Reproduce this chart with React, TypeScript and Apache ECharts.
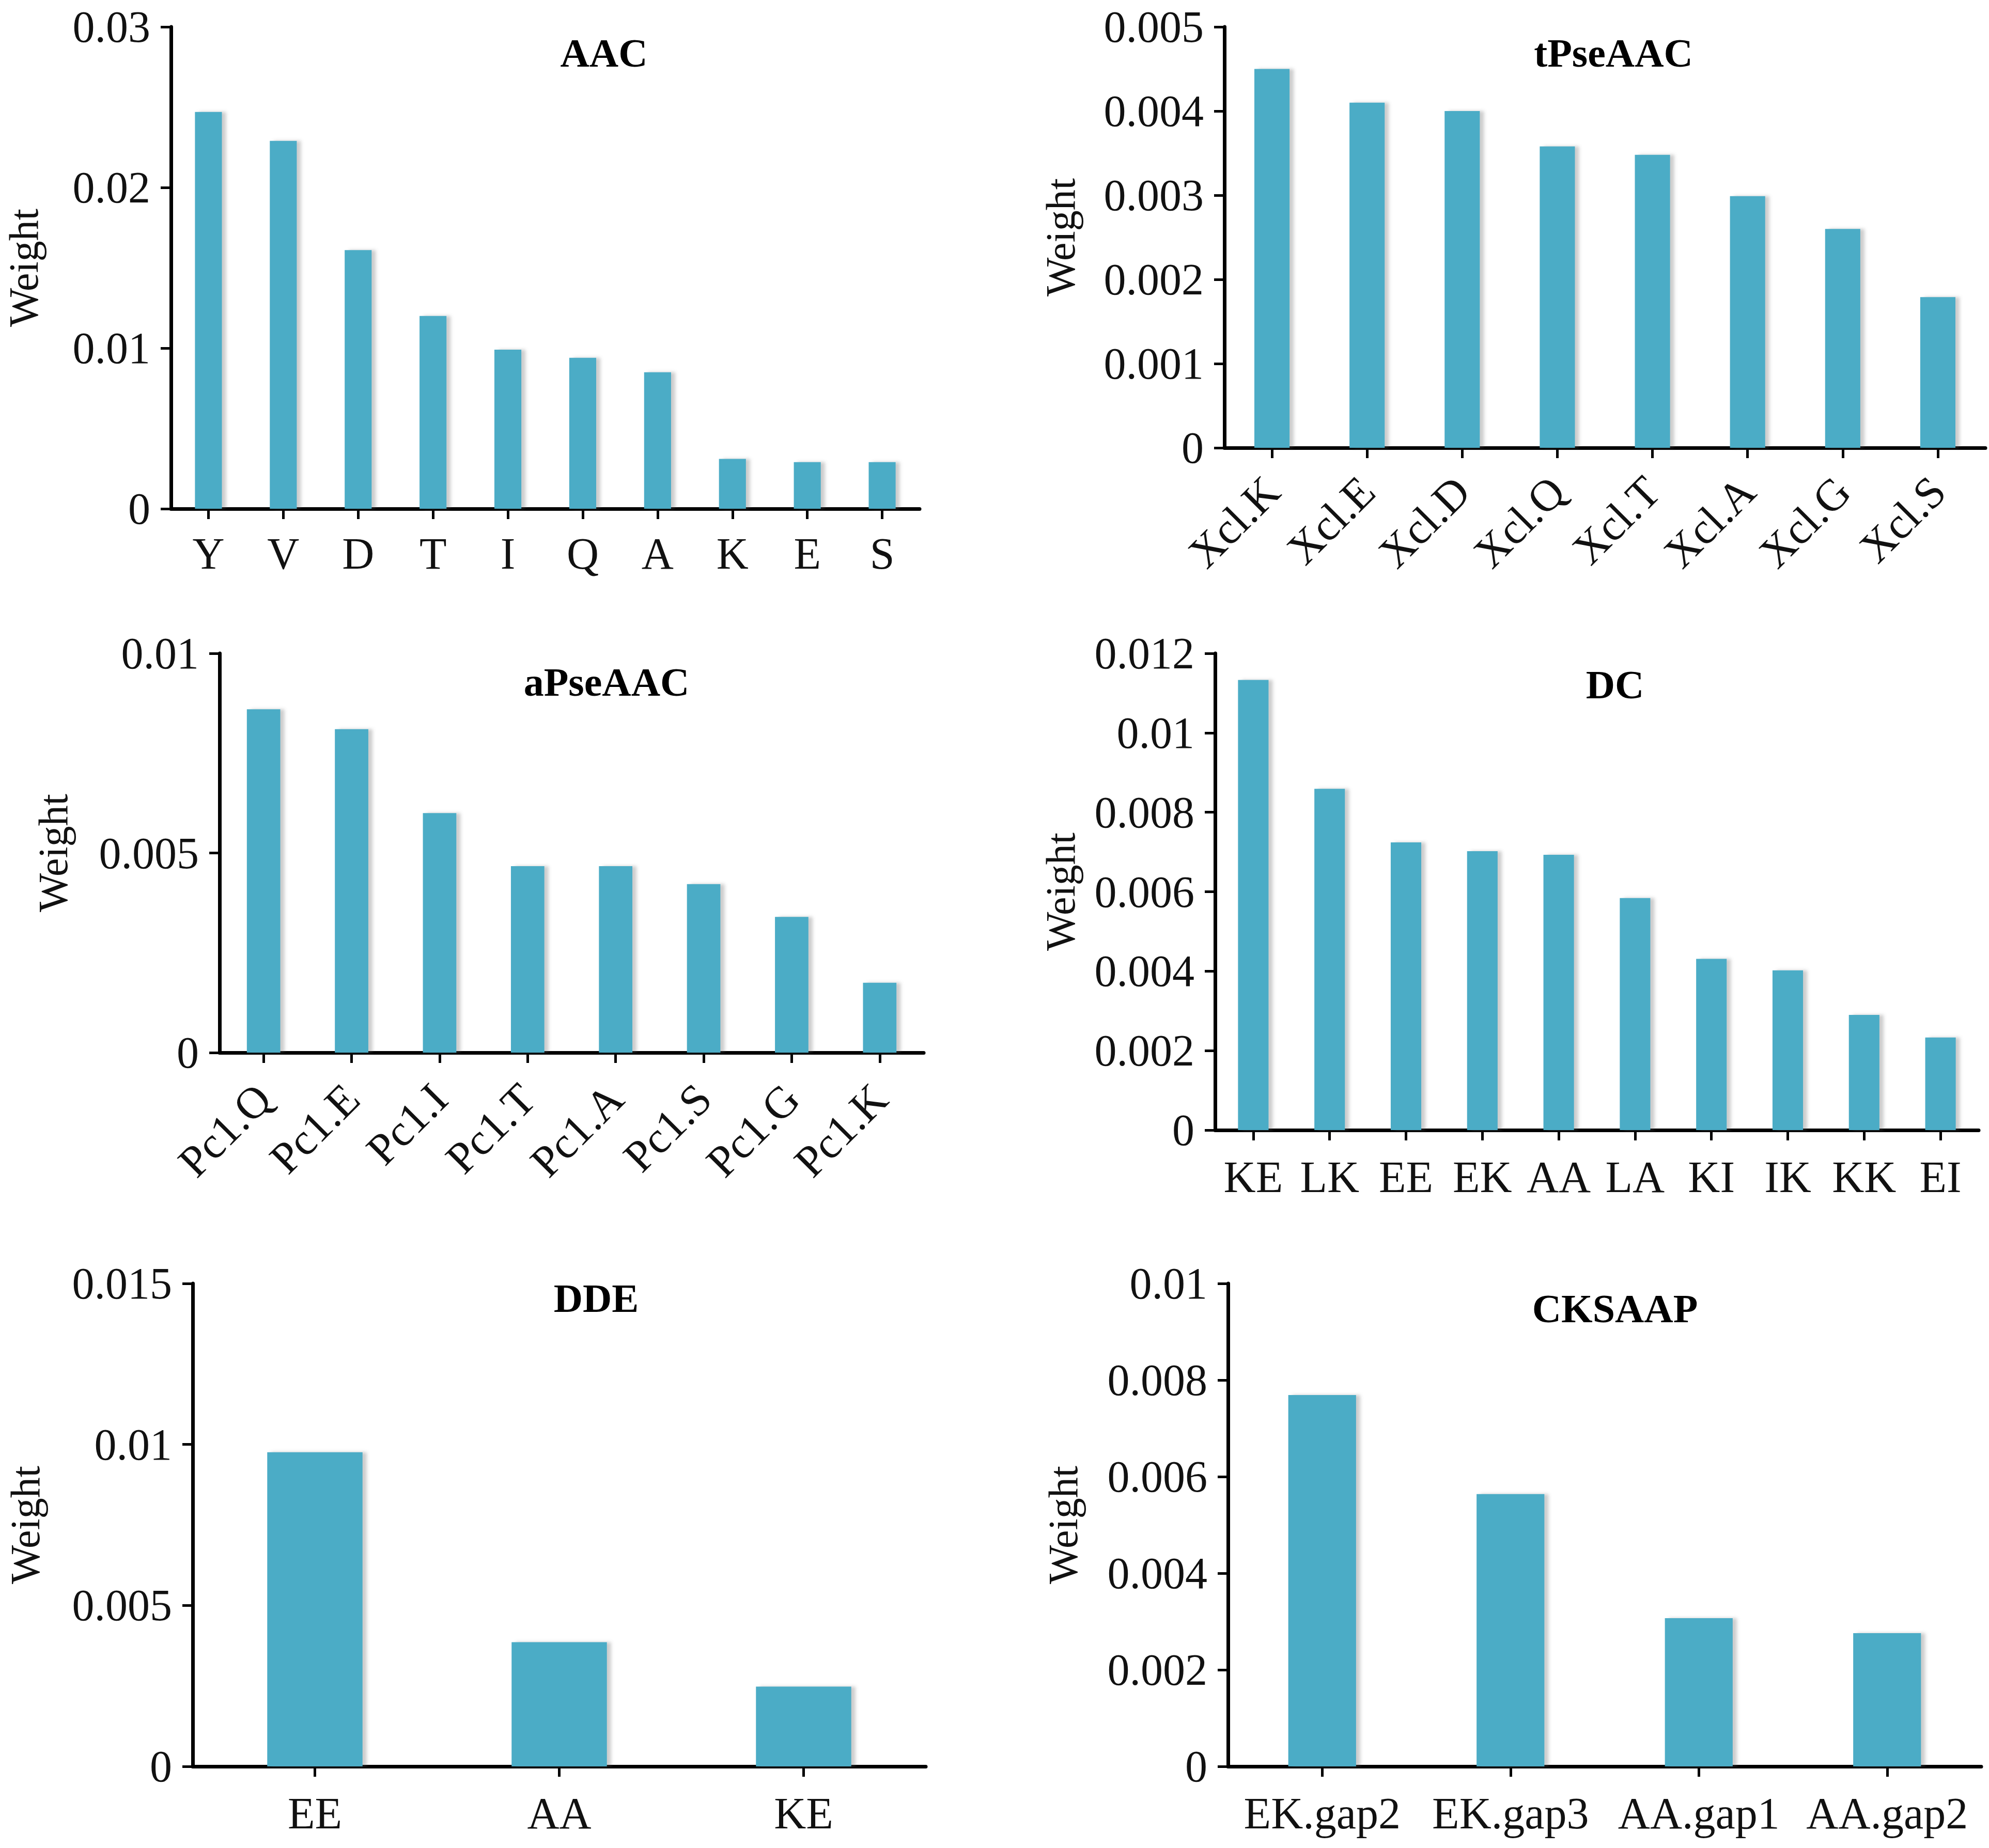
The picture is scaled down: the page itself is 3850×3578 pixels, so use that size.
import React, { useEffect, useRef } from "react";
import * as echarts from "echarts";

// ---- Data ----
const aacCategories = ["Y", "V", "D", "T", "I", "Q", "A", "K", "E", "S"];
const aacValues = [0.0247, 0.0229, 0.0161, 0.012, 0.0099, 0.0094, 0.0085, 0.0031, 0.0029, 0.0029];

const tpseCategories = ["Xcl.K", "Xcl.E", "Xcl.D", "Xcl.Q", "Xcl.T", "Xcl.A", "Xcl.G", "Xcl.S"];
const tpseValues = [0.0045, 0.0041, 0.004, 0.00358, 0.00348, 0.00299, 0.0026, 0.00179];

const apseCategories = ["Pc1.Q", "Pc1.E", "Pc1.I", "Pc1.T", "Pc1.A", "Pc1.S", "Pc1.G", "Pc1.K"];
const apseValues = [0.0086, 0.0081, 0.006, 0.00467, 0.00467, 0.00422, 0.0034, 0.00175];

const dcCategories = ["KE", "LK", "EE", "EK", "AA", "LA", "KI", "IK", "KK", "EI"];
const dcValues = [0.01133, 0.00859, 0.00724, 0.00702, 0.00693, 0.00584, 0.00431, 0.00402, 0.0029, 0.00233];

const ddeCategories = ["EE", "AA", "KE"];
const ddeValues = [0.00976, 0.00386, 0.00248];

const cksaapCategories = ["EK.gap2", "EK.gap3", "AA.gap1", "AA.gap2"];
const cksaapValues = [0.00769, 0.00564, 0.00307, 0.00276];

const titles = ["AAC", "tPseAAC", "aPseAAC", "DC", "DDE", "CKSAAP"];
const yMax = [0.03, 0.005, 0.01, 0.012, 0.015, 0.01];
const yInterval = [0.01, 0.001, 0.005, 0.002, 0.005, 0.002];

// ---- Layout ----
const FONT = "'Liberation Serif', 'DejaVu Serif', serif";
const BAR_COLOR = "#4BACC6";

const layout = [
  { left: 331, top: 52, width: 1449, height: 933, barWidth: "36%", rotate: 0, xMargin: 44, nameGap: 245, tx: 1164, ty: 58 },
  { left: 2370, top: 52, width: 1473, height: 815, barWidth: "37%", rotate: 45, xMargin: 70, nameGap: 277, tx: 3118, ty: 58 },
  { left: 425, top: 1265, width: 1363, height: 773, barWidth: "38%", rotate: 45, xMargin: 75, nameGap: 282, tx: 1169, ty: 1276 },
  { left: 2352, top: 1265, width: 1478, height: 923, barWidth: "40%", rotate: 0, xMargin: 48, nameGap: 259, tx: 3121, ty: 1281 },
  { left: 373, top: 2485, width: 1419, height: 935, barWidth: "39%", rotate: 0, xMargin: 48, nameGap: 284, tx: 1149, ty: 2469 },
  { left: 2377, top: 2485, width: 1458, height: 935, barWidth: "36%", rotate: 0, xMargin: 48, nameGap: 279, tx: 3121, ty: 2489 },
];

const panelCategories = [aacCategories, tpseCategories, apseCategories, dcCategories, ddeCategories, cksaapCategories];
const panelValues = [aacValues, tpseValues, apseValues, dcValues, ddeValues, cksaapValues];

function fmt(v: number): string {
  if (Math.abs(v) < 1e-12) return "0";
  return String(+v.toFixed(4));
}

function buildOption() {
  const grid: any[] = [];
  const xAxis: any[] = [];
  const yAxis: any[] = [];
  const series: any[] = [];
  const title: any[] = [];

  layout.forEach((L, i) => {
    grid.push({ left: L.left, top: L.top, width: L.width, height: L.height, containLabel: false });
    xAxis.push({
      type: "category",
      gridIndex: i,
      data: panelCategories[i],
      boundaryGap: true,
      axisLine: { show: true, lineStyle: { color: "#000", width: 7 } },
      axisTick: { show: true, alignWithLabel: true, length: 20, lineStyle: { color: "#000", width: 5 } },
      axisLabel: {
        color: "#111",
        fontFamily: FONT,
        fontSize: 86,
        rotate: L.rotate,
        margin: L.xMargin,
        interval: 0,
      },
      splitLine: { show: false },
    });
    yAxis.push({
      type: "value",
      gridIndex: i,
      min: 0,
      max: yMax[i],
      interval: yInterval[i],
      name: "Weight",
      nameLocation: "middle",
      nameRotate: 90,
      nameGap: L.nameGap,
      nameTextStyle: { color: "#111", fontFamily: FONT, fontSize: 80 },
      axisLine: { show: true, lineStyle: { color: "#000", width: 7 } },
      axisTick: { show: true, length: 20, lineStyle: { color: "#000", width: 5 } },
      axisLabel: {
        color: "#111",
        fontFamily: FONT,
        fontSize: 86,
        lineHeight: 80,
        margin: 40,
        formatter: fmt,
      },
      splitLine: { show: false },
    });
    series.push({
      type: "bar",
      xAxisIndex: i,
      yAxisIndex: i,
      data: panelValues[i],
      barWidth: L.barWidth,
      itemStyle: {
        color: BAR_COLOR,
        shadowColor: "rgba(110,110,110,0.35)",
        shadowBlur: 6,
        shadowOffsetX: 8,
        shadowOffsetY: 0,
      },
    });
    title.push({
      text: titles[i],
      left: L.tx,
      top: L.ty,
      textAlign: "center",
      textStyle: { fontFamily: FONT, fontSize: 78, fontWeight: "bold", color: "#000" },
    });
  });

  return {
    animation: false,
    backgroundColor: "#ffffff",
    title,
    grid,
    xAxis,
    yAxis,
    series,
  };
}

export default function App() {
  const ref = useRef<HTMLDivElement>(null);
  useEffect(() => {
    document.body.style.margin = "0";
    if (!ref.current) return;
    const chart = echarts.init(ref.current, undefined, { renderer: "svg" });
    chart.setOption(buildOption() as any);
    return () => {
      chart.dispose();
    };
  }, []);
  return <div ref={ref} style={{ width: 3850, height: 3578, background: "#fff" }} />;
}
